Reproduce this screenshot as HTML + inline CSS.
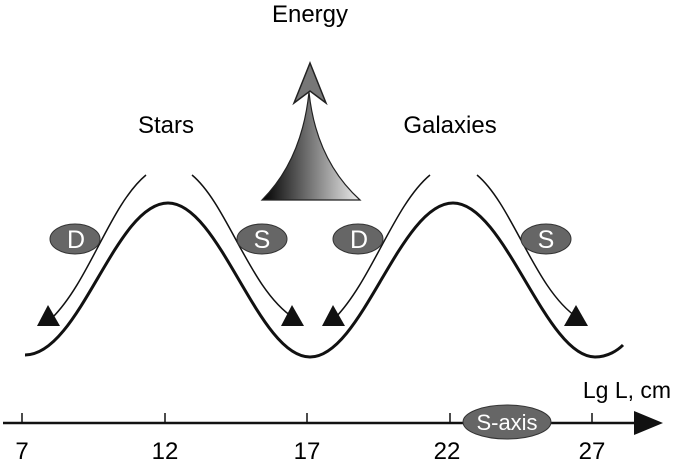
<!DOCTYPE html>
<html><head><meta charset="utf-8"><style>
html,body{margin:0;padding:0;background:#fff;}
svg{display:block;}
text{font-family:"Liberation Sans",Arial,sans-serif;}
</style></head><body>
<svg width="679" height="463" viewBox="0 0 679 463" xmlns="http://www.w3.org/2000/svg">
<defs>
<linearGradient id="g" x1="0" y1="0" x2="1" y2="0">
<stop offset="0" stop-color="#000"/><stop offset="1" stop-color="#eee"/>
</linearGradient>
</defs>
<text x="310" y="22" font-size="24" text-anchor="middle">Energy</text>
<text x="166" y="133" font-size="24" text-anchor="middle">Stars</text>
<text x="450" y="133" font-size="24" text-anchor="middle">Galaxies</text>
<!-- energy arrow -->
<path d="M262,200 Q302,160 309,92 Q316,160 360,200 Z" fill="url(#g)" stroke="#222" stroke-width="1.2"/>
<path d="M294,103 L310,63 L326,103 L310,91 Z" fill="#777" stroke="#222" stroke-width="1.5"/>
<!-- wave -->
<path d="M25,355 C80,355 115,203 168,203 C220,203 258,357 310,357 C362,357 400,203 453,203 C505,203 545,357 595,357 C608,357 618,350 623,345" fill="none" stroke="#111" stroke-width="3"/>
<!-- thin arcs -->
<g fill="none" stroke="#111" stroke-width="1.5">
<path d="M146,175 C110,205 90,280 52,318"/>
<path d="M192,175 C228,205 250,290 294,318"/>
<path d="M430,175 C394,205 372,280 335,318"/>
<path d="M477,175 C513,205 535,290 578,318"/>
</g>
<g fill="#111">
<polygon points="37,326 60,326 48,305"/>
<polygon points="281,326 304,326 292,305"/>
<polygon points="322,326 345,326 333,305"/>
<polygon points="564,326 588,326 576,305"/>
</g>
<g fill="#666" stroke="#333" stroke-width="1">
<ellipse cx="75" cy="239" rx="25" ry="15"/>
<ellipse cx="262" cy="239" rx="25" ry="15"/>
<ellipse cx="358" cy="239" rx="25" ry="15"/>
<ellipse cx="546" cy="239" rx="25" ry="15"/>
</g>
<g fill="#fff" font-size="25" text-anchor="middle">
<text x="76" y="248">D</text>
<text x="262" y="248">S</text>
<text x="359" y="248">D</text>
<text x="546" y="248">S</text>
</g>
<!-- axis -->
<line x1="3" y1="423" x2="640" y2="423" stroke="#111" stroke-width="2.5"/>
<polygon points="634,411 663,423 634,435" fill="#111"/>
<g stroke="#111" stroke-width="1.5">
<line x1="22" y1="413" x2="22" y2="423"/>
<line x1="165" y1="413" x2="165" y2="423"/>
<line x1="307" y1="413" x2="307" y2="423"/>
<line x1="450" y1="413" x2="450" y2="423"/>
<line x1="592" y1="413" x2="592" y2="423"/>
</g>
<ellipse cx="507" cy="422" rx="44" ry="17" fill="#666" stroke="#333" stroke-width="1"/>
<text x="507" y="430" font-size="22" fill="#fff" text-anchor="middle">S-axis</text>
<text x="627" y="398" font-size="23" text-anchor="middle">Lg L, cm</text>
<g font-size="24" text-anchor="middle">
<text x="22" y="459">7</text>
<text x="165" y="459">12</text>
<text x="307" y="459">17</text>
<text x="447" y="459">22</text>
<text x="592" y="459">27</text>
</g>
</svg>
</body></html>
